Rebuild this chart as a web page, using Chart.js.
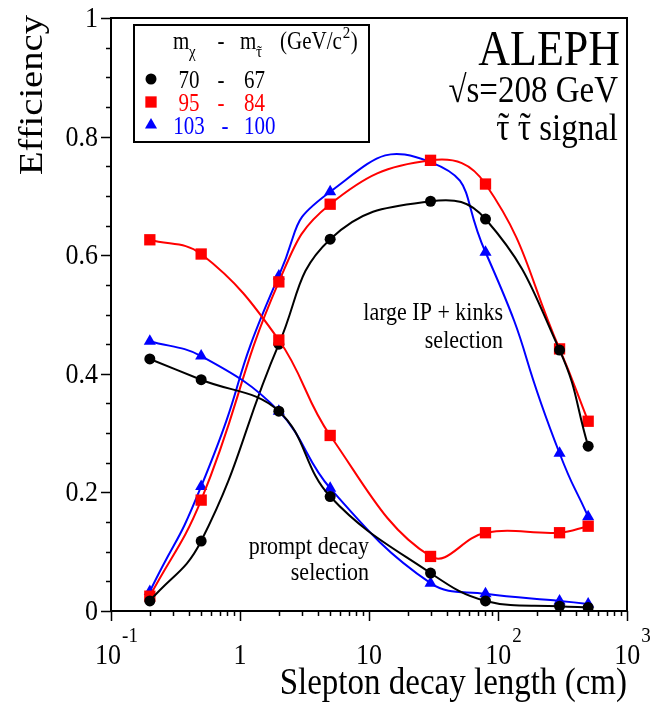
<!DOCTYPE html>
<html>
<head>
<meta charset="utf-8">
<script src="https://cdn.jsdelivr.net/npm/chart.js@4.4.0/dist/chart.umd.min.js"></script>
<style>
  body { margin: 0; background: #fff; }
  canvas { display: block; }
</style>
</head>
<body>
<canvas id="chart" width="653" height="704"></canvas>
<script>
'use strict';

// decay lengths (cm) where the efficiencies were evaluated
const decayLength = [0.2, 0.5, 2, 5, 30, 80, 300, 500];

// large IP + kinks selection
const kinks70 = [0.017, 0.118, 0.45, 0.627, 0.691, 0.661, 0.44, 0.278];
const kinks95 = [0.025, 0.187, 0.555, 0.686, 0.76, 0.72, 0.442, 0.32];
const kinks103 = [0.033, 0.21, 0.565, 0.707, 0.757, 0.605, 0.266, 0.159];

// prompt decay selection
const prompt70 = [0.425, 0.39, 0.337, 0.193, 0.064, 0.017, 0.008, 0.006];
const prompt95 = [0.626, 0.602, 0.457, 0.296, 0.092, 0.132, 0.132, 0.143];
const prompt103 = [0.455, 0.43, 0.337, 0.207, 0.047, 0.029, 0.017, 0.012];

const massChi = ['70', '95', '103'];
const massStau = ['67', '84', '100'];
const seriesColors = ['#000000', '#ff0000', '#0000ff'];
const seriesMarkers = ['circle', 'rect', 'triangle'];
const markerRadius = [5.5, 8, 7];

const xTickPowers = [-1, 0, 1, 2, 3];
const yTickValues = [0, 0.2, 0.4, 0.6, 0.8, 1];
const yTickLabels = ['0', '0.2', '0.4', '0.6', '0.8', '1'];

const FONT = '"Liberation Serif", "Times New Roman", serif';
const SY = 1.15; // the original plot's text is slightly stretched vertically

function toPoints(vals) {
  return decayLength.map((x, i) => ({ x: x, y: vals[i] }));
}

function makeSet(label, vals, k, tension) {
  return {
    label: label,
    data: toPoints(vals),
    borderColor: seriesColors[k],
    backgroundColor: seriesColors[k],
    borderWidth: 2,
    pointStyle: seriesMarkers[k],
    pointRadius: markerRadius[k],
    pointBorderWidth: 0,
    tension: tension
  };
}

function text(ctx, str, x, y, size, align, color, sy) {
  ctx.save();
  ctx.translate(x, y);
  ctx.scale(1, sy || SY);
  ctx.font = size + 'px ' + FONT;
  ctx.textAlign = align || 'left';
  ctx.textBaseline = 'alphabetic';
  ctx.fillStyle = color || '#000';
  ctx.fillText(str, 0, 0);
  ctx.restore();
}

function textWidth(ctx, str, size) {
  ctx.save();
  ctx.font = size + 'px ' + FONT;
  const w = ctx.measureText(str).width;
  ctx.restore();
  return w;
}

// tau with a tilde on top, left edge at x
function tauTilde(ctx, x, y, size, color) {
  const w = textWidth(ctx, '\u03C4', size);
  text(ctx, '\u03C4', x, y, size, 'left', color);
  text(ctx, '\u02DC', x + w / 2 + size * 0.03, y - size * 0.02, size, 'center', color);
  return w;
}

function marker(ctx, style, x, y, r, color) {
  ctx.save();
  ctx.fillStyle = color;
  ctx.beginPath();
  if (style === 'circle') {
    ctx.arc(x, y, r, 0, Math.PI * 2);
  } else if (style === 'rect') {
    const s = r * Math.SQRT1_2;
    ctx.rect(x - s, y - s, 2 * s, 2 * s);
  } else {
    ctx.moveTo(x, y - r);
    ctx.lineTo(x + r * 0.866, y + r * 0.5);
    ctx.lineTo(x - r * 0.866, y + r * 0.5);
    ctx.closePath();
  }
  ctx.fill();
  ctx.restore();
}

const framePlugin = {
  id: 'frame',
  afterDraw(chart) {
    const ctx = chart.ctx;
    const area = chart.chartArea;
    const xs = chart.scales.x;
    const ys = chart.scales.y;

    ctx.save();
    ctx.strokeStyle = '#000';
    ctx.lineWidth = 2;
    ctx.strokeRect(area.left, area.top, area.right - area.left, area.bottom - area.top);

    // x ticks (log), drawn below the axis
    ctx.lineWidth = 1.5;
    ctx.beginPath();
    for (let p = -1; p < 3; p++) {
      for (let m = 1; m <= 9; m++) {
        const px = Math.round(xs.getPixelForValue(m * Math.pow(10, p))) + 0.5;
        const len = m === 1 ? 10 : 5;
        ctx.moveTo(px, area.bottom);
        ctx.lineTo(px, area.bottom + len);
      }
    }
    const pxEnd = Math.round(xs.getPixelForValue(1000)) + 0.5;
    ctx.moveTo(pxEnd, area.bottom);
    ctx.lineTo(pxEnd, area.bottom + 10);

    // y ticks every 0.05, labelled every 0.2
    for (let k = 0; k <= 20; k++) {
      const py = Math.round(ys.getPixelForValue(k * 0.05)) + 0.5;
      const len = k % 4 === 0 ? 10 : 5;
      ctx.moveTo(area.left, py);
      ctx.lineTo(area.left - len, py);
    }
    ctx.stroke();
    ctx.restore();

    // y tick labels
    yTickValues.forEach((v, i) => {
      const py = ys.getPixelForValue(v);
      text(ctx, yTickLabels[i], 98, py + 9, 26, 'right');
    });

    // x tick labels as powers of ten
    xTickPowers.forEach((p) => {
      const px = xs.getPixelForValue(Math.pow(10, p));
      const base = 664;
      if (p === 0) {
        text(ctx, '1', px, base, 26, 'center');
      } else if (p === 1) {
        text(ctx, '10', px, base, 26, 'center');
      } else {
        const sup = String(p);
        const w1 = textWidth(ctx, '10', 26);
        const w2 = textWidth(ctx, sup, 19);
        const x0 = px + 5 - (w1 + w2) / 2;
        text(ctx, '10', x0, base, 26, 'left');
        text(ctx, sup, x0 + w1 + 1, base - 22, 19, 'left');
      }
    });

    // axis titles
    text(ctx, 'Slepton decay length (cm)', 627, 694, 33, 'right');
    ctx.save();
    ctx.translate(42, 15);
    ctx.rotate(-Math.PI / 2);
    ctx.scale(1.17, 1);
    ctx.font = '33px ' + FONT;
    ctx.textAlign = 'right';
    ctx.fillStyle = '#000';
    ctx.fillText('Efficiency', 0, 0);
    ctx.restore();

    // labels
    text(ctx, 'ALEPH', 620, 65, 44, 'right');
    text(ctx, '\u221As=208 GeV', 618, 102, 33, 'right');
    const sigW = textWidth(ctx, '\u03C4 \u03C4 signal', 33);
    const sx0 = 618 - sigW;
    const tw = tauTilde(ctx, sx0, 140, 33);
    const sp = textWidth(ctx, ' ', 33);
    tauTilde(ctx, sx0 + tw + sp, 140, 33);
    text(ctx, ' signal', sx0 + 2 * tw + sp, 140, 33, 'left');

    text(ctx, 'large IP + kinks', 503, 320, 22, 'right');
    text(ctx, 'selection', 503, 348, 22, 'right');
    text(ctx, 'prompt decay', 369, 554, 22, 'right');
    text(ctx, 'selection', 369, 580, 22, 'right');

    // legend box
    ctx.save();
    ctx.lineWidth = 2;
    ctx.strokeStyle = '#000';
    ctx.strokeRect(134, 25, 235, 117);
    ctx.restore();
    text(ctx, 'm', 173, 49, 21, 'left');
    text(ctx, '\u03C7', 189, 57, 15, 'left');
    text(ctx, '-', 221, 49, 21, 'center');
    text(ctx, 'm', 240, 49, 21, 'left');
    tauTilde(ctx, 256, 57, 15);
    const gW = textWidth(ctx, '(GeV/c', 21);
    text(ctx, '(GeV/c', 280, 49, 21, 'left');
    text(ctx, '2', 280 + gW + 1, 38, 15, 'left');
    text(ctx, ')', 280 + gW + 9, 49, 21, 'left');
    const rowY = [88, 111, 134];
    massChi.forEach((m, k) => {
      marker(ctx, seriesMarkers[k], 151, rowY[k] - 9, markerRadius[k], seriesColors[k]);
      text(ctx, m, 189, rowY[k], 21, 'center', seriesColors[k]);
      text(ctx, '-', 221 + (k === 2 ? 4 : 0), rowY[k], 21, 'center', seriesColors[k]);
      text(ctx, massStau[k], 244, rowY[k], 21, 'left', seriesColors[k]);
    });
  }
};

const config = {
  type: 'line',
  data: {
    datasets: [
      makeSet('prompt 70-67', prompt70, 0, 0.4),
      makeSet('prompt 95-84', prompt95, 1, 0.4),
      makeSet('prompt 103-100', prompt103, 2, 0.4),
      makeSet('kinks 70-67', kinks70, 0, 0.45),
      makeSet('kinks 95-84', kinks95, 1, 0.45),
      makeSet('kinks 103-100', kinks103, 2, 0.6)
    ]
  },
  options: {
    responsive: false,
    animation: false,
    layout: { padding: { left: 111, right: 26, top: 18, bottom: 93 } },
    plugins: { legend: { display: false }, tooltip: { enabled: false } },
    scales: {
      x: { type: 'logarithmic', min: 0.1, max: 1000, display: false },
      y: { type: 'linear', min: 0, max: 1, display: false }
    }
  },
  plugins: [framePlugin]
};

const efficiencyChart = new Chart(document.getElementById('chart'), config);
</script>
</body>
</html>
